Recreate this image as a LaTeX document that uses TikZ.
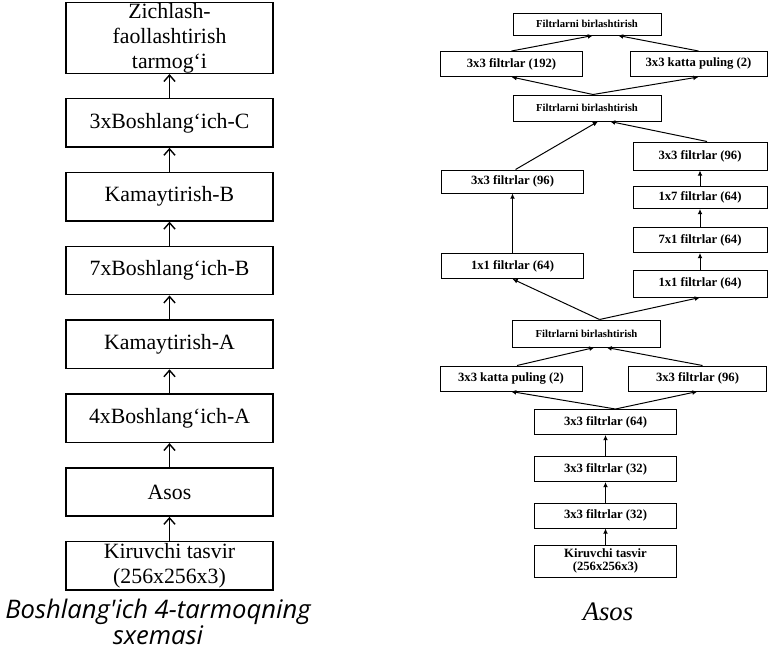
\documentclass[tikz,border=0pt]{standalone}
\usepackage{fontspec}
\setmainfont{Liberation Serif}
\newfontfamily\captionsans{Open Sans}
\newfontfamily\captionserif{Liberation Serif}
\usetikzlibrary{positioning}
\usetikzlibrary{calc}
\usetikzlibrary{arrows.meta}

\begin{document}
\begin{tikzpicture}[x = 0.25mm, y = -0.25mm, black, node distance = 6mm,
    bigbox/.style = {draw, line width = 1pt, minimum width = 51.75mm, minimum height = 12.1mm,
        inner sep = 0pt, align = center, font = \fontsize{15.5}{17.4}\selectfont},
    smallbox/.style = {draw, line width = 0.7pt, minimum width = 35.5mm, minimum height = 6.25mm,
        inner sep = 0pt, align = center, font = \fontsize{9}{9.8}\selectfont\bfseries},
    joinbox/.style = {smallbox, minimum width = 37mm, font = \fontsize{7.6}{9}\selectfont\bfseries},
    sidebox/.style = {smallbox, minimum width = 33.5mm},
    uparrow/.style = {line width = 1pt, -{Straight Barb[length = 1.6mm, width = 2.8mm]}},
    thinarrow/.style = {line width = 0.7pt, -{Latex[length = 1.3mm, width = 1.2mm]}}]

    \useasboundingbox (0,0) rectangle (768,650);

    %\draw[help lines, opacity = 0.1] (0,0) grid[step = 50] (768,650);

    % the network, from the input up
    \begin{scope}
        \node (kir) at (169.5,565.8) [bigbox] {Kiruvchi tasvir\\(256x256x3)};
        \node (asos) [bigbox, above = of kir] {Asos};
        \node (bA) [bigbox, above = of asos] {4xBoshlang‘ich-A};
        \node (kA) [bigbox, above = of bA] {Kamaytirish-A};
        \node (bB) [bigbox, above = of kA] {7xBoshlang‘ich-B};
        \node (kB) [bigbox, above = of bB] {Kamaytirish-B};
        \node (bC) [bigbox, above = of kB] {3xBoshlang‘ich-C};
        \node (zich) [bigbox, above = of bC, minimum height = 17.75mm, font = \fontsize{15.5}{17.8}\selectfont] {Zichlash-\\faollashtirish\\tarmog‘i};

        \draw[uparrow] (kir) -- (asos);
        \draw[uparrow] (asos) -- (bA);
        \draw[uparrow] (bA) -- (kA);
        \draw[uparrow] (kA) -- (bB);
        \draw[uparrow] (bB) -- (kB);
        \draw[uparrow] (kB) -- (bC);
        \draw[uparrow] (bC) -- (zich);

        \node (capL) at (158,598.5) [anchor = north, align = center, inner sep = 0pt,
            font = \captionsans\itshape\fontsize{18.2}{15.2}\selectfont] {Boshlang'ich 4-tarmoqning\\sxemasi};
    \end{scope}

    % the stem block
    \begin{scope}
        \node (kir2) at (605.5,561) [smallbox, minimum height = 8mm] {Kiruvchi tasvir\\(256x256x3)};
        \node (c31) at (605.5,515.5) [smallbox] {3x3 filtrlar (32)};
        \node (c32) at (605.5,469) [smallbox] {3x3 filtrlar (32)};
        \node (c64) at (605.5,422) [smallbox] {3x3 filtrlar (64)};

        \node (kp2) at (511,378.5) [smallbox] {3x3 katta puling (2)};
        \node (c96) at (697.5,378.5) [smallbox, minimum width = 34.5mm] {3x3 filtrlar (96)};
        \node (f3) at (586.5,333.5) [joinbox, minimum height = 6.75mm] {Filtrlarni birlashtirish};

        \node (l11) at (512.5,266) [smallbox] {1x1 filtrlar (64)};
        \node (l96) at (512.5,181.5) [smallbox, minimum height = 5.75mm] {3x3 filtrlar (96)};
        \node (r11) at (700,283.5) [sidebox, minimum height = 6.75mm] {1x1 filtrlar (64)};
        \node (r71) at (700,240) [sidebox] {7x1 filtrlar (64)};
        \node (r17) at (700,197.5) [sidebox, minimum height = 5.5mm] {1x7 filtrlar (64)};
        \node (r96) at (700,156) [sidebox, minimum height = 7mm] {3x3 filtrlar (96)};
        \node (f2) at (587,108) [joinbox, minimum height = 6.5mm] {Filtrlarni birlashtirish};

        \node (c192) at (511.5,64) [smallbox] {3x3 filtrlar (192)};
        \node (kp2top) at (698.5,64) [smallbox, minimum width = 34.25mm] {3x3 katta puling (2)};
        \node (f1) at (587,24) [joinbox, minimum height = 5.5mm] {Filtrlarni birlashtirish};

        \draw[thinarrow] (kir2) -- (c31);
        \draw[thinarrow] (c31) -- (c32);
        \draw[thinarrow] (c32) -- (c64);
        \draw[thinarrow] ($(c64.north)+(10,0)$) -- (kp2.south);
        \draw[thinarrow] ($(c64.north)+(10,0)$) -- (c96.south);
        \draw[thinarrow] ($(kp2.north)+(6,0)$) -- ($(f3.south)+(8,0)$);
        \draw[thinarrow] ($(c96.north)+(5,0)$) -- ($(f3.south)+(20,0)$);

        \draw[thinarrow] ($(f3.north)+(13,0)$) -- (l11.south);
        \draw[thinarrow] ($(f3.north)+(13,0)$) -- (r11.south);
        \draw[thinarrow] (l11) -- (l96);
        \draw[thinarrow] (r11) -- (r71);
        \draw[thinarrow] (r71) -- (r17);
        \draw[thinarrow] (r17) -- (r96);
        \draw[thinarrow] ($(l96.north)+(3,0)$) -- ($(f2.south)+(11,0)$);
        \draw[thinarrow] ($(r96.north)+(7,0)$) -- ($(f2.south)+(23,0)$);

        \draw[thinarrow] ($(f2.north)+(6,0)$) -- (c192.south);
        \draw[thinarrow] ($(f2.north)+(6,0)$) -- (kp2top.south);
        \draw[thinarrow] (c192.north) -- ($(f1.south)+(6,0)$);
        \draw[thinarrow] (kp2top.north) -- ($(f1.south)+(31,0)$);

        \node (capR) at (608,612) [font = \captionserif\itshape\fontsize{19}{21}\selectfont] {Asos};
    \end{scope}

\end{tikzpicture}
\end{document}
